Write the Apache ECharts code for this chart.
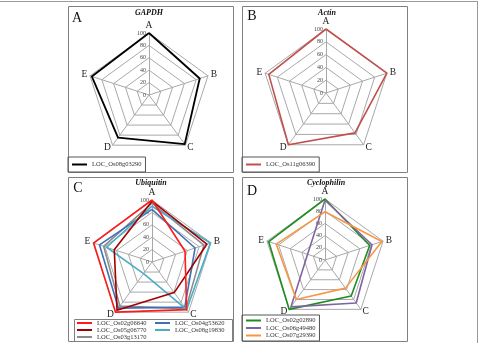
<!DOCTYPE html>
<html>
<head>
<meta charset="utf-8">
<script src="https://cdn.jsdelivr.net/npm/echarts@6/dist/echarts.min.js"></script>
<style>
  html, body { margin: 0; padding: 0; background: #fff; }
  #chart { width: 479px; height: 343px; }
</style>
</head>
<body>
<div id="chart"></div>
<script>
const axisNames = ['A', 'B', 'C', 'D', 'E']
const tickValues = [0, 20, 40, 60, 80, 100]

const gapdhGenes = ['LOC_Os08g03290']
const gapdhValues = [[100, 86, 98, 85, 97]]

const actinGenes = ['LOC_Os11g06390']
const actinValues = [[100, 100, 77, 100, 94]]

const ubiquitinGenes = ['LOC_Os03g13170', 'LOC_Os04g53620', 'LOC_Os08g19830', 'LOC_Os05g06770', 'LOC_Os02g06640']
const ubiquitinValues = [
  [95, 88, 93, 88, 82],
  [85, 73, 90, 92, 89],
  [90, 99, 95, 23, 77],
  [98, 93, 61, 96, 64],
  [100, 56, 95, 100, 99]
]

const cyclophilinGenes = ['LOC_Os02g02890', 'LOC_Os06g49480', 'LOC_Os07g29390']
const cyclophilinValues = [
  [100, 77, 73, 100, 97],
  [98, 81, 87, 95, 30],
  [79, 98, 57, 80, 84]
]

// styles
const serif = '"Liberation Serif", "DejaVu Serif", serif'
const gridColor = '#a8a8a8'
const frameColor = '#808080'
const gapdhColors = ['#000000']
const actinColors = ['#c0504d']
const ubiquitinColors = ['#8c8c8c', '#3f72b5', '#4bacc6', '#a00000', '#ff1a1a']
const cyclophilinColors = ['#1e8c1e', '#8064a2', '#f79646']

// echarts places radar indicators counter-clockwise, the figure goes clockwise
const order = [0, 4, 3, 2, 1]
const toRadar = (v) => order.map((i) => v[i])

function radarOf(cx, cy, r) {
  return {
    center: [cx, cy],
    radius: r,
    startAngle: 90,
    splitNumber: tickValues.length - 1,
    shape: 'polygon',
    indicator: order.map((i) => {
      const ind = { name: axisNames[i], min: tickValues[0], max: tickValues[tickValues.length - 1] }
      if (i === 0) ind.axisLabel = { show: true }
      return ind
    }),
    axisName: { color: '#222', fontFamily: serif, fontSize: 9.5 },
    nameGap: 3,
    axisLine: { lineStyle: { color: gridColor, width: 1 } },
    splitLine: { lineStyle: { color: gridColor, width: 1 } },
    splitArea: { show: false },
    axisTick: { show: false },
    axisLabel: { show: false, color: '#444', fontFamily: serif, fontSize: 6, margin: 3 }
  }
}

function seriesOf(idx, genes, values, colors, width) {
  return {
    type: 'radar',
    radarIndex: idx,
    symbol: 'none',
    silent: true,
    data: genes.map((g, k) => ({
      name: g,
      value: toRadar(values[k]),
      lineStyle: { color: colors[k], width: width },
      itemStyle: { color: colors[k] }
    }))
  }
}

const legendBase = {
  orient: 'vertical',
  icon: 'rect',
  itemWidth: 15,
  itemHeight: 2,
  itemGap: 0,
  selectedMode: false,
  textStyle: { fontFamily: serif, fontSize: 6.5, lineHeight: 7, color: '#333' }
}

function panelRect(x, y, w, h) {
  return {
    type: 'rect',
    shape: { x: x + 0.5, y: y + 0.5, width: w, height: h },
    style: { fill: 'none', stroke: frameColor, lineWidth: 1 },
    silent: true
  }
}

function label(x, y, text, font) {
  return {
    type: 'text',
    x: x,
    y: y,
    silent: true,
    style: { text: text, font: font, fill: '#111', align: 'center', verticalAlign: 'middle' }
  }
}

const chart = echarts.init(document.getElementById('chart'))
chart.setOption({
  animation: false,
  radar: [
    radarOf(149, 95, 62),
    radarOf(326, 93, 64),
    radarOf(152, 262, 62),
    radarOf(325, 260, 61)
  ],
  legend: [
    Object.assign({}, legendBase, { data: gapdhGenes, left: 68, top: 157, padding: [4, 4], borderColor: '#555', borderWidth: 1 }),
    Object.assign({}, legendBase, { data: actinGenes, left: 242, top: 157, padding: [4, 4], borderColor: '#555', borderWidth: 1 }),
    Object.assign({}, legendBase, { data: ['LOC_Os02g06640', 'LOC_Os05g06770', 'LOC_Os03g13170'], left: 77, top: 319.5, padding: 0 }),
    Object.assign({}, legendBase, { data: ['LOC_Os04g53620', 'LOC_Os08g19830'], left: 155, top: 319.5, padding: 0 }),
    Object.assign({}, legendBase, { data: cyclophilinGenes, left: 242, top: 315, padding: [2, 4], itemGap: 0.5, borderColor: '#555', borderWidth: 1 })
  ],
  series: [
    seriesOf(0, gapdhGenes, gapdhValues, gapdhColors, 1.8),
    seriesOf(1, actinGenes, actinValues, actinColors, 1.6),
    seriesOf(2, ubiquitinGenes, ubiquitinValues, ubiquitinColors, 1.6),
    seriesOf(3, cyclophilinGenes, cyclophilinValues, cyclophilinColors, 1.6)
  ],
  graphic: [
    { type: 'line', shape: { x1: 0, y1: 1.5, x2: 478, y2: 1.5 }, style: { stroke: '#9a9a9a', lineWidth: 1 }, silent: true },
    { type: 'line', shape: { x1: 477.5, y1: 1, x2: 477.5, y2: 343 }, style: { stroke: '#9a9a9a', lineWidth: 1 }, silent: true },
    panelRect(68, 6, 165, 166),
    panelRect(242, 6, 165, 166),
    panelRect(68, 177, 165, 164),
    panelRect(242, 177, 165, 164),
    panelRect(74, 319, 158, 22),
    label(77, 18, 'A', '14px ' + serif),
    label(252, 16, 'B', '14px ' + serif),
    label(78, 188, 'C', '14px ' + serif),
    label(252, 191, 'D', '14px ' + serif),
    label(149, 13, 'GAPDH', 'italic bold 8px ' + serif),
    label(327, 13, 'Actin', 'italic bold 8px ' + serif),
    label(151, 183, 'Ubiquitin', 'italic bold 8px ' + serif),
    label(326, 183, 'Cyclophilin', 'italic bold 8px ' + serif)
  ]
})
</script>
</body>
</html>
